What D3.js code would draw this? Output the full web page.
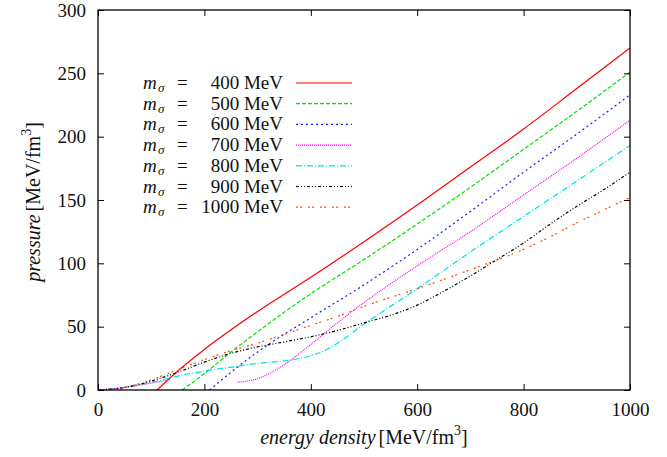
<!DOCTYPE html>
<html>
<head>
<meta charset="utf-8">
<script src="https://cdn.jsdelivr.net/npm/d3@7"></script>
</head>
<body style="margin:0;background:white">
<svg id="chart"></svg>
<script>
var width = 667, height = 457
var serif = "Liberation Serif"

var xTicks = [0, 200, 400, 600, 800, 1000]
var yTicks = [0, 50, 100, 150, 200, 250, 300]

var masses = ["400", "500", "600", "700", "800", "900", "1000"]

// [energy density, pressure], null = gap in the curve
var s400 = [[111, 0], [150, 15], [200, 32], [250, 47.5], [300, 62], [400, 89], [500, 117], [600, 146], [700, 176], [800, 206], [900, 238], [1000, 270]]
var s500 = [[158, 0], [200, 13], [250, 30], [300, 46], [400, 76], [500, 103], [600, 131], [700, 160], [800, 190], [900, 220], [1000, 251]]
var s600 = [[210, 0], [250, 14], [300, 30], [400, 57], [500, 83], [600, 111], [700, 141], [800, 172], [900, 202], [1000, 233]]
var s700 = [[0, 0], [50, 2], [100, 5.5], [135, 8], null, [262, 6], [280, 7], [300, 9], [350, 20], [400, 36], [450, 53], [500, 69], [600, 98], [700, 125], [800, 154], [900, 183], [1000, 213]]
var s800 = [[0, 0], [50, 2], [100, 6], [150, 11], [200, 15], [250, 18], [300, 21], [350, 23], [380, 25], [400, 27], [420, 30], [450, 37], [500, 52], [600, 80], [700, 109], [800, 137], [900, 165], [1000, 193]]
var s900 = [[0, 0], [50, 2], [100, 7], [150, 14], [200, 22], [250, 29], [300, 34], [350, 38], [400, 42], [450, 47], [500, 53], [550, 59], [600, 67], [650, 78], [700, 90], [750, 103], [800, 116], [850, 131], [900, 145], [950, 158], [1000, 172]]
var s1000 = [[0, 0], [50, 2], [100, 8], [150, 16], [200, 24], [250, 31], [300, 37], [350, 44], [400, 51], [450, 58], [500, 66], [600, 80], [700, 95], [800, 111], [850, 121], [900, 132], [950, 142], [1000, 152]]

var seriesData = [s400, s500, s600, s700, s800, s900, s1000]
var colors = ["#ff0000", "#00e000", "#1a1aff", "#ff00ff", "#00e0e0", "#000000", "#ff4a00"]
var dashes = [null, "4,2", "2,3", "1,1", "6,2,1,2", "3,2,1,2,1,2", "2,2,2,6"]

var margin = {left: 98, right: 37, top: 10, bottom: 67}

var svg = d3.select("#chart")
    .attr("width", width)
    .attr("height", height)
    .style("display", "block")

var x = d3.scaleLinear().domain([0, 1000]).range([margin.left, width - margin.right])
var y = d3.scaleLinear().domain([0, 300]).range([height - margin.bottom, margin.top])

svg.append("clipPath").attr("id", "clip")
    .append("rect")
    .attr("x", x(0)).attr("y", y(300))
    .attr("width", x(1000) - x(0)).attr("height", y(0) - y(300))

var line = d3.line()
    .defined(function(d) { return d != null })
    .x(function(d) { return x(d[0]) })
    .y(function(d) { return y(d[1]) })
    .curve(d3.curveMonotoneX)

var plot = svg.append("g").attr("clip-path", "url(#clip)")
seriesData.forEach(function(s, i) {
    plot.append("path")
        .datum(s)
        .attr("d", line)
        .attr("fill", "none")
        .attr("stroke", colors[i])
        .attr("stroke-width", 1.2)
        .attr("stroke-dasharray", dashes[i])
})

// axes, ticks inward on all sides
var tickLen = 6
var axisB = d3.axisBottom(x).tickValues(xTicks).tickSize(-tickLen).tickPadding(13).tickFormat(d3.format("d"))
var axisT = d3.axisTop(x).tickValues(xTicks).tickSize(-tickLen).tickFormat("")
var axisL = d3.axisLeft(y).tickValues(yTicks).tickSize(-tickLen).tickPadding(12)
var axisR = d3.axisRight(y).tickValues(yTicks).tickSize(-tickLen).tickFormat("")

function styleAxis(g) {
    g.attr("font-family", serif).attr("font-size", 19)
    g.select(".domain").remove()
    g.selectAll("line").attr("stroke", "#000").attr("stroke-width", 1)
    g.selectAll("text").attr("fill", "#111").attr("font-family", serif)
}
svg.append("g").attr("transform", "translate(0," + y(0) + ")").call(axisB).call(styleAxis)
svg.append("g").attr("transform", "translate(0," + y(300) + ")").call(axisT).call(styleAxis)
svg.append("g").attr("transform", "translate(" + x(0) + ",0)").call(axisL).call(styleAxis)
svg.append("g").attr("transform", "translate(" + x(1000) + ",0)").call(axisR).call(styleAxis)

svg.append("rect")
    .attr("x", x(0)).attr("y", y(300))
    .attr("width", x(1000) - x(0)).attr("height", y(0) - y(300))
    .attr("fill", "none").attr("stroke", "#000").attr("stroke-width", 1.3)

// axis titles
var xt = svg.append("text")
    .attr("x", (x(0) + x(1000)) / 2).attr("y", 444)
    .attr("text-anchor", "middle").attr("font-size", 20).attr("font-family", serif).attr("fill", "#111")
xt.append("tspan").attr("font-style", "italic").text("energy density")
xt.append("tspan").attr("dx", 3).text("[MeV/fm")
xt.append("tspan").attr("dy", -9).attr("font-size", 14).text("3")
xt.append("tspan").attr("dy", 9).text("]")

var yt = svg.append("text")
    .attr("transform", "translate(40," + (y(150) + 2) + ") rotate(-90)")
    .attr("text-anchor", "middle").attr("font-size", 20).attr("font-family", serif).attr("fill", "#111")
yt.append("tspan").attr("font-style", "italic").text("pressure")
yt.append("tspan").attr("dx", 3).text("[MeV/fm")
yt.append("tspan").attr("dy", -9).attr("font-size", 14).text("3")
yt.append("tspan").attr("dy", 9).text("]")

// legend
var legend = svg.append("g")
masses.forEach(function(m, i) {
    var ly = 83 + i * 20.7
    var row = legend.append("g").attr("transform", "translate(0," + ly + ")")
    var lab = row.append("text").attr("y", 6).attr("font-size", 19)
        .attr("font-family", serif).attr("fill", "#111")
    lab.append("tspan").attr("x", 143).attr("font-style", "italic").text("m")
    lab.append("tspan").attr("x", 158).attr("dy", 3).attr("font-size", 13)
        .attr("font-style", "italic").text("σ")
    lab.append("tspan").attr("x", 177).attr("dy", -3).text("=")
    row.append("text").attr("x", 283).attr("y", 6).attr("text-anchor", "end")
        .attr("font-size", 19).attr("font-family", serif).attr("fill", "#111")
        .text(m + " MeV")
    row.append("line")
        .attr("x1", 296).attr("x2", 352).attr("y1", 0).attr("y2", 0)
        .attr("stroke", colors[i]).attr("stroke-width", 1.2)
        .attr("stroke-dasharray", dashes[i])
})
</script>
</body>
</html>
